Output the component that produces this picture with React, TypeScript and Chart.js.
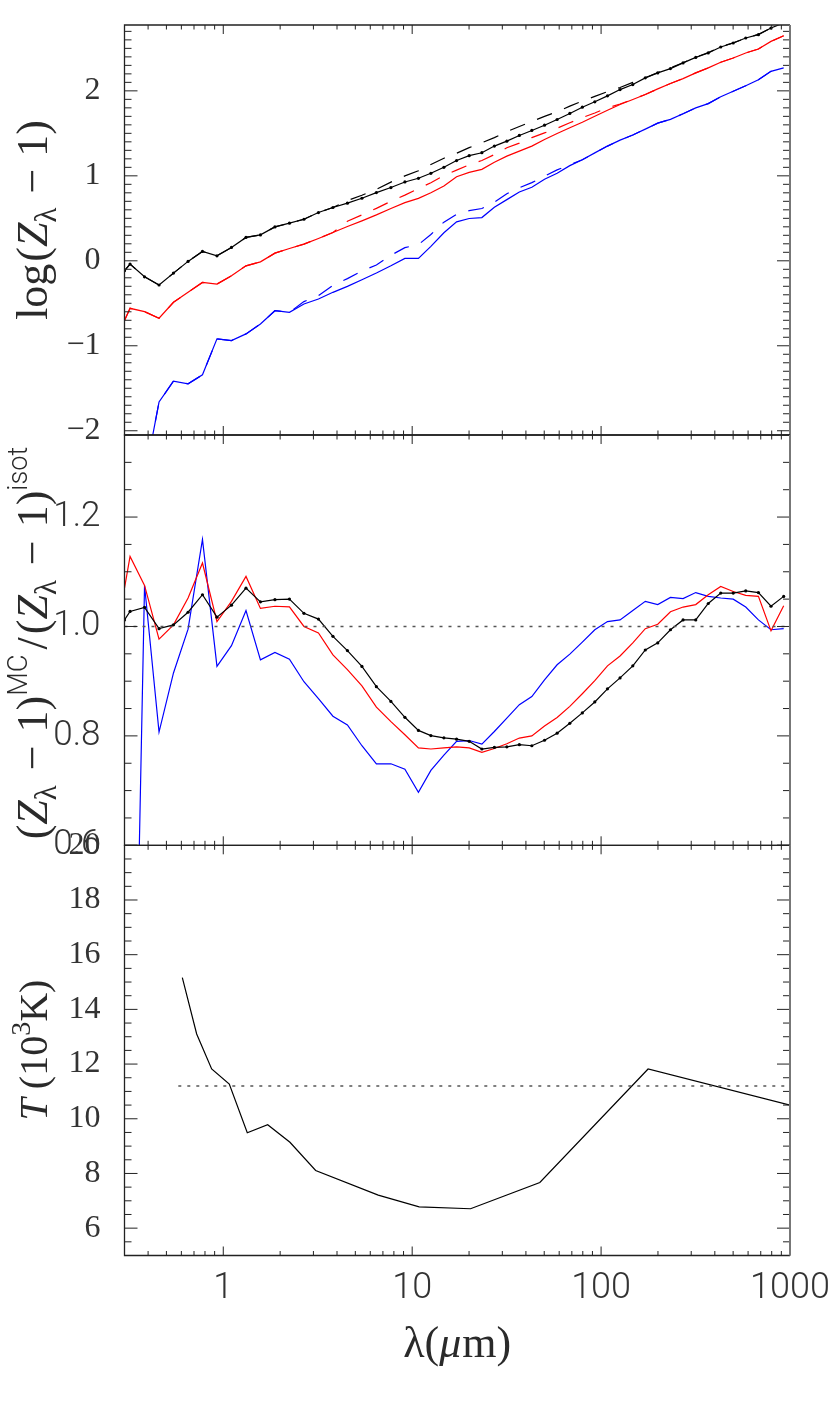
import React, { useEffect, useRef } from 'react';
import { Chart, registerables } from 'chart.js';

Chart.register(...registerables);

// ---------------- data ----------------
const LAMBDA = [0.3, 0.321, 0.383, 0.457, 0.545, 0.651, 0.776, 0.926, 1.105, 1.319, 1.573, 1.877, 2.24, 2.673, 3.19, 3.806, 4.541, 5.419, 6.465, 7.716, 9.15, 10.79, 12.56, 14.72, 17.18, 20.03, 23.38, 27.23, 31.7, 36.92, 42.99, 50.18, 58.51, 68.31, 79.55, 92.62, 108.1, 126.0, 147.2, 171.4, 199.5, 232.9, 271.6, 317.0, 369.2, 429.9, 500.6, 583.0, 680.5, 793.2, 926.0];

const LOG_BLACK_MC = [-0.117, -0.039, -0.188, -0.285, -0.145, -0.007, 0.11, 0.059, 0.157, 0.275, 0.305, 0.399, 0.443, 0.489, 0.568, 0.627, 0.678, 0.736, 0.803, 0.862, 0.928, 0.971, 1.03, 1.1, 1.18, 1.237, 1.272, 1.35, 1.408, 1.475, 1.534, 1.596, 1.663, 1.734, 1.808, 1.871, 1.941, 2.015, 2.074, 2.153, 2.211, 2.262, 2.329, 2.394, 2.446, 2.516, 2.563, 2.622, 2.661, 2.739, 2.8];
const LOG_BLACK_ISO = [-0.117, -0.039, -0.188, -0.285, -0.145, -0.007, 0.11, 0.059, 0.157, 0.275, 0.305, 0.399, 0.443, 0.489, 0.568, 0.627, 0.708, 0.772, 0.841, 0.926, 0.999, 1.059, 1.133, 1.207, 1.265, 1.332, 1.39, 1.45, 1.52, 1.58, 1.64, 1.7, 1.755, 1.82, 1.88, 1.935, 1.99, 2.04, 2.1, 2.155, 2.215, 2.27, 2.33, 2.395, 2.45, 2.52, 2.565, 2.62, 2.665, 2.74, 2.8];
const LOG_RED_MC = [-0.704, -0.559, -0.598, -0.676, -0.488, -0.371, -0.254, -0.274, -0.176, -0.059, -0.012, 0.09, 0.145, 0.196, 0.263, 0.333, 0.404, 0.47, 0.54, 0.615, 0.685, 0.735, 0.8, 0.88, 0.99, 1.04, 1.076, 1.16, 1.232, 1.291, 1.35, 1.428, 1.499, 1.566, 1.631, 1.702, 1.772, 1.839, 1.898, 1.957, 2.023, 2.086, 2.144, 2.211, 2.27, 2.336, 2.387, 2.446, 2.493, 2.582, 2.649];
const LOG_RED_ISO = [-0.704, -0.559, -0.598, -0.676, -0.488, -0.371, -0.254, -0.274, -0.176, -0.059, -0.012, 0.09, 0.145, 0.196, 0.263, 0.333, 0.465, 0.54, 0.617, 0.7, 0.773, 0.851, 0.918, 1.005, 1.067, 1.13, 1.18, 1.25, 1.33, 1.385, 1.45, 1.505, 1.56, 1.625, 1.685, 1.74, 1.8, 1.845, 1.9, 1.957, 2.023, 2.086, 2.144, 2.211, 2.27, 2.336, 2.387, 2.446, 2.493, 2.582, 2.649];
const LOG_BLUE_MC = [null, null, -2.56, -1.662, -1.415, -1.447, -1.342, -0.919, -0.939, -0.86, -0.743, -0.587, -0.606, -0.508, -0.45, -0.371, -0.301, -0.223, -0.144, -0.059, 0.028, 0.028, 0.17, 0.33, 0.458, 0.498, 0.509, 0.63, 0.72, 0.81, 0.865, 0.96, 1.03, 1.12, 1.19, 1.27, 1.35, 1.42, 1.48, 1.55, 1.62, 1.665, 1.73, 1.8, 1.85, 1.93, 1.995, 2.06, 2.13, 2.23, 2.27];
const LOG_BLUE_ISO = [null, null, -2.56, -1.662, -1.415, -1.447, -1.342, -0.919, -0.939, -0.86, -0.743, -0.587, -0.606, -0.48, -0.41, -0.29, -0.21, -0.12, -0.05, 0.065, 0.155, 0.19, 0.31, 0.455, 0.548, 0.59, 0.615, 0.69, 0.79, 0.86, 0.92, 0.995, 1.07, 1.13, 1.19, 1.27, 1.35, 1.42, 1.48, 1.55, 1.62, 1.665, 1.73, 1.8, 1.85, 1.93, 1.995, 2.06, 2.13, 2.23, 2.27];

const RATIO_BLACK = [1.012, 1.0275, 1.035, 0.996, 1.003, 1.026, 1.058, 1.017, 1.039, 1.07, 1.045, 1.049, 1.05, 1.024, 1.0135, 0.982, 0.956, 0.927, 0.89, 0.863, 0.834, 0.81, 0.8006, 0.7964, 0.794, 0.79, 0.776, 0.779, 0.78, 0.784, 0.782, 0.792, 0.805, 0.823, 0.842, 0.862, 0.886, 0.906, 0.928, 0.957, 0.97, 0.994, 1.012, 1.012, 1.042, 1.061, 1.061, 1.065, 1.062, 1.037, 1.055];
const RATIO_RED = [1.07, 1.128, 1.075, 0.977, 1.003, 1.052, 1.116, 1.009, 1.046, 1.0915, 1.033, 1.037, 1.036, 1.0, 0.988, 0.948, 0.921, 0.8915, 0.8525, 0.826, 0.802, 0.778, 0.776, 0.778, 0.78, 0.778, 0.77, 0.777, 0.7855, 0.796, 0.8, 0.818, 0.8336, 0.854, 0.877, 0.901, 0.928, 0.946, 0.97, 0.996, 1.004, 1.027, 1.0355, 1.04, 1.058, 1.073, 1.064, 1.057, 1.055, 0.992, 1.038];
const RATIO_BLUE = [null, -0.25, 1.075, 0.807, 0.915, 0.995, 1.159, 0.927, 0.965, 1.029, 0.939, 0.9525, 0.94, 0.899, 0.868, 0.836, 0.82, 0.782, 0.749, 0.749, 0.739, 0.697, 0.737, 0.765, 0.79, 0.7915, 0.785, 0.808, 0.8325, 0.857, 0.872, 0.9025, 0.93, 0.9495, 0.9715, 0.994, 1.009, 1.012, 1.029, 1.046, 1.04, 1.053, 1.051, 1.062, 1.055, 1.052, 1.05, 1.0355, 1.012, 0.994, 0.996];
const RATIO_REF_LAMBDA = [0.3, 1000];
const RATIO_REF_VALUE = 1.0;

const T_LAMBDA = [0.607, 0.723, 0.868, 1.076, 1.34, 1.718, 2.254, 3.083, 6.61, 10.89, 20.37, 47.4, 177.3, 1000];
const T_VALUES = [15.16, 13.1, 11.82, 11.27, 9.49, 9.78, 9.14, 8.11, 7.21, 6.78, 6.71, 7.67, 11.82, 10.5];
const T_REF_LAMBDA = [0.578, 1000];
const T_REF_VALUE = 11.2;

const X_TICKS = [1, 10, 100, 1000];
const X_TICK_LABELS = ['1', '10', '100', '1000'];
const Y1_TICKS = [-2, -1, 0, 1, 2];
const Y1_LABELS = ['\u22122', '\u22121', '0', '1', '2'];
const Y2_TICKS = [0.6, 0.8, 1.0, 1.2];
const Y2_LABELS = ['0.6', '0.8', '1.0', '1.2'];
const Y3_TICKS = [6, 8, 10, 12, 14, 16, 18, 20];
const Y3_LABELS = ['6', '8', '10', '12', '14', '16', '18', '20'];

// ---------------- layout / style ----------------
const W = 830;
const H = 1411;
const PLOT_LEFT = 124.5;
const PLOT_RIGHT = 790;
const PANELS = [
  { top: 25, bottom: 435 },
  { top: 435, bottom: 845.3 },
  { top: 845.3, bottom: 1255.5 },
];
const SERIF = '"Liberation Serif", "DejaVu Serif", serif';
const SANS = 'Roboto, Lato, "DejaVu Sans", sans-serif';
const TEXT_COLOR = '#2a2a2a';

type Seg = { t: string; f?: 'r' | 'i' | 's'; k?: number; sh?: number; pre?: number; gap?: number };
type Title = { segs: Seg[]; size: number };

function zl(gapMinus: number): Seg[] {
  return [
    { t: '(' },
    { t: 'Z', f: 'i' },
    { t: '\u03bb', k: 0.7, sh: -0.2, gap: gapMinus },
    { t: '\u2212', pre: 2, gap: gapMinus },
    { t: '1)' },
  ];
}
const P1_TITLE: Title = { size: 44, segs: [{ t: 'log', gap: 2 }, ...zl(12)] };
const P2_TITLE: Title = {
  size: 44,
  segs: [
    ...zl(13),
    { t: 'MC', f: 's', k: 0.62, sh: 0.45, gap: 5 },
    { t: '/', gap: 3 },
    ...zl(13),
    { t: 'isot', f: 's', k: 0.62, sh: 0.45 },
  ],
};
const P3_TITLE: Title = { size: 40, segs: [{ t: 'T', f: 'i', gap: 9 }, { t: '(10' }, { t: '3', k: 0.7, sh: 0.42 }, { t: 'K)' }] };
const X_TITLE: Title = { size: 44, segs: [{ t: '\u03bb(' }, { t: '\u03bc', f: 'i', gap: 1 }, { t: 'm)' }] };

function segFont(s: Seg, base: number) {
  const size = base * (s.k || 1);
  if (s.f === 's') return `300 ${size}px ${SANS}`;
  if (s.f === 'i') return `italic ${size}px ${SERIF}`;
  return `${size}px ${SERIF}`;
}

function drawTitle(ctx: CanvasRenderingContext2D, title: Title, x: number, y: number, rotate: boolean) {
  const base = title.size;
  ctx.save();
  ctx.translate(x, y);
  if (rotate) ctx.rotate(-Math.PI / 2);
  ctx.fillStyle = TEXT_COLOR;
  ctx.textBaseline = 'alphabetic';
  ctx.textAlign = 'left';
  const widths = title.segs.map((s) => {
    ctx.font = segFont(s, base);
    return (s.pre || 0) + ctx.measureText(s.t).width + (s.gap || 0);
  });
  const total = widths.reduce((a, b) => a + b, 0);
  let pos = -total / 2;
  title.segs.forEach((s, i) => {
    ctx.font = segFont(s, base);
    ctx.fillText(s.t, pos + (s.pre || 0), -(s.sh || 0) * base);
    pos += widths[i];
  });
  ctx.restore();
}

function xMinor(): number[] {
  const out: number[] = [];
  [0.1, 1, 10, 100].forEach((d) => {
    for (let k = 2; k <= 9; k++) {
      const v = k * d;
      if (v >= 0.3 - 1e-9 && v <= 1000) out.push(v);
    }
  });
  return out;
}

const framePlugin = {
  id: 'frame',
  afterDatasetsDraw(chart: any, _args: any, opts: any) {
    const { ctx, chartArea: a } = chart;
    const xs = chart.scales.x;
    const ys = chart.scales.y;
    ctx.save();
    ctx.strokeStyle = '#222';
    ctx.lineWidth = 1;
    ctx.beginPath();
    xMinor().forEach((v) => {
      const p = xs.getPixelForValue(v);
      ctx.moveTo(p, a.bottom); ctx.lineTo(p, a.bottom - 4.5);
      ctx.moveTo(p, a.top); ctx.lineTo(p, a.top + 4.5);
    });
    X_TICKS.forEach((v) => {
      const p = xs.getPixelForValue(v);
      ctx.moveTo(p, a.bottom); ctx.lineTo(p, a.bottom - 9);
      ctx.moveTo(p, a.top); ctx.lineTo(p, a.top + 9);
    });
    const step = opts.minorStep;
    const n0 = Math.ceil(ys.min / step - 1e-6);
    const n1 = Math.floor(ys.max / step + 1e-6);
    for (let n = n0; n <= n1; n++) {
      const v = n * step;
      const major = opts.major.some((m: number) => Math.abs(m - v) < 1e-6);
      const len = major ? 13 : 7;
      const p = ys.getPixelForValue(v);
      ctx.moveTo(a.left, p); ctx.lineTo(a.left + len, p);
      ctx.moveTo(a.right, p); ctx.lineTo(a.right - len, p);
    }
    ctx.stroke();
    // frame
    ctx.strokeStyle = '#222';
    ctx.lineWidth = 1.3;
    ctx.beginPath();
    ctx.moveTo(a.right, a.top); ctx.lineTo(a.left, a.top); ctx.lineTo(a.left, a.bottom); ctx.lineTo(a.right, a.bottom);
    ctx.stroke();
    ctx.strokeStyle = '#777';
    ctx.lineWidth = 2;
    ctx.beginPath();
    ctx.moveTo(a.right, a.top); ctx.lineTo(a.right, a.bottom);
    ctx.stroke();
    ctx.restore();
    // titles
    drawTitle(ctx, opts.title, 47, opts.titleY, true);
    if (opts.xTitle) drawTitle(ctx, X_TITLE, (a.left + a.right) / 2, 1357, false);
  },
};

function pts(xs: number[], ys: (number | null)[]) {
  return xs.map((x, i) => ({ x, y: ys[i] }));
}

function line(data: any[], color: string, extra: any = {}) {
  return {
    data,
    borderColor: color,
    backgroundColor: color,
    borderWidth: 1.2,
    pointRadius: 0,
    tension: 0,
    fill: false,
    spanGaps: false,
    ...extra,
  };
}

function makeConfig(idx: number, datasets: any[], yMin: number, yMax: number, yTicks: number[], yLabels: string[], yFont: any, minorStep: number, title: Title, titleY: number): any {
  const panel = PANELS[idx];
  const showX = idx === 2;
  return {
    type: 'line',
    data: { datasets },
    plugins: [framePlugin],
    options: {
      responsive: false,
      maintainAspectRatio: false,
      animation: false,
      devicePixelRatio: 1,
      events: [],
      layout: {
        autoPadding: false,
        padding: { left: 0, right: W - PLOT_RIGHT, top: panel.top, bottom: 0 },
      },
      plugins: {
        legend: { display: false },
        tooltip: { enabled: false },
        frame: { major: yTicks, minorStep, title, titleY, xTitle: showX },
      },
      scales: {
        x: {
          type: 'logarithmic',
          min: 0.3,
          max: 1000,
          display: true,
          grid: { display: false },
          border: { display: false },
          afterBuildTicks: (s: any) => { s.ticks = X_TICKS.map((v) => ({ value: v })); },
          afterFit: (s: any) => {
            s.height = H - panel.bottom;
            s.paddingLeft = 0; s.paddingRight = 0; s.paddingTop = 0; s.paddingBottom = 0;
          },
          ticks: {
            display: showX,
            autoSkip: false,
            maxRotation: 0,
            padding: 4,
            color: '#333',
            font: { family: SANS, size: 36, weight: '300', lineHeight: 1.2 },
            callback: (_v: any, i: number) => X_TICK_LABELS[i],
          },
        },
        y: {
          type: 'linear',
          min: yMin,
          max: yMax,
          grid: { display: false },
          border: { display: false },
          afterBuildTicks: (s: any) => { s.ticks = yTicks.map((v) => ({ value: v })); },
          afterFit: (s: any) => {
            s.width = PLOT_LEFT;
            s.paddingLeft = 0; s.paddingRight = 0; s.paddingTop = 0; s.paddingBottom = 0;
          },
          ticks: {
            autoSkip: false,
            padding: 16,
            color: '#333',
            font: yFont,
            callback: (_v: any, i: number) => yLabels[i],
          },
        },
      },
    },
  };
}

export default function App() {
  const r1 = useRef<HTMLCanvasElement>(null);
  const r2 = useRef<HTMLCanvasElement>(null);
  const r3 = useRef<HTMLCanvasElement>(null);

  useEffect(() => {
    const serifFont = { family: SERIF, size: 32, weight: 'normal' };
    const sansFont = { family: SANS, size: 35, weight: '300' };
    const dash = [16, 13];

    const cfg1 = makeConfig(0, [
      line(pts(LAMBDA, LOG_BLUE_ISO), '#0000ff', { borderDash: dash }),
      line(pts(LAMBDA, LOG_BLUE_MC), '#0000ff'),
      line(pts(LAMBDA, LOG_RED_ISO), '#ff0000', { borderDash: dash }),
      line(pts(LAMBDA, LOG_RED_MC), '#ff0000'),
      line(pts(LAMBDA, LOG_BLACK_ISO), '#000000', { borderDash: dash }),
      line(pts(LAMBDA, LOG_BLACK_MC), '#000000', { pointRadius: 1.6, pointBorderWidth: 0 }),
    ], -2.05, 2.775, Y1_TICKS, Y1_LABELS, serifFont, 0.1, P1_TITLE, 220);

    const cfg2 = makeConfig(1, [
      line(pts(RATIO_REF_LAMBDA, [RATIO_REF_VALUE, RATIO_REF_VALUE]), '#555555', { borderDash: [3, 6], borderWidth: 1.6 }),
      line(pts(LAMBDA, RATIO_BLACK), '#000000', { pointRadius: 1.6, pointBorderWidth: 0 }),
      line(pts(LAMBDA, RATIO_RED), '#ff0000'),
      line(pts(LAMBDA, RATIO_BLUE), '#0000ff'),
    ], 0.6, 1.35, Y2_TICKS, Y2_LABELS, sansFont, 0.05, P2_TITLE, 643);

    const cfg3 = makeConfig(2, [
      line(pts(T_REF_LAMBDA, [T_REF_VALUE, T_REF_VALUE]), '#555555', { borderDash: [3, 6], borderWidth: 1.6 }),
      line(pts(T_LAMBDA, T_VALUES), '#000000'),
    ], 5, 20, Y3_TICKS, Y3_LABELS, serifFont, 0.5, P3_TITLE, 1050);

    const charts = [new Chart(r1.current!, cfg1), new Chart(r2.current!, cfg2), new Chart(r3.current!, cfg3)];
    return () => charts.forEach((c) => c.destroy());
  }, []);

  const cs: React.CSSProperties = { position: 'absolute', left: 0, top: 0, width: W, height: H };
  return (
    <div style={{ position: 'absolute', left: 0, top: 0, width: W, height: H, background: '#fff' }}>
      <canvas ref={r1} width={W} height={H} style={cs} />
      <canvas ref={r2} width={W} height={H} style={cs} />
      <canvas ref={r3} width={W} height={H} style={cs} />
    </div>
  );
}
